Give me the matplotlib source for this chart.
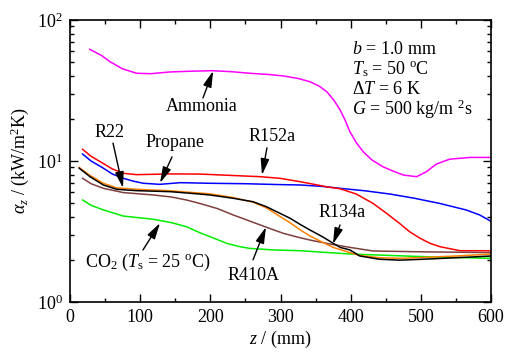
"""
Condensation heat transfer coefficient along the channel for several refrigerants.
"""

import matplotlib
matplotlib.use("Agg")
import matplotlib.pyplot as plt
import matplotlib.ticker as mticker

plt.rcParams["font.family"] = ["Liberation Serif", "DejaVu Serif"]
plt.rcParams["mathtext.fontset"] = "custom"
plt.rcParams["mathtext.rm"] = "Liberation Serif"
plt.rcParams["mathtext.it"] = "Liberation Serif:italic"
plt.rcParams["mathtext.bf"] = "Liberation Serif:bold"
plt.rcParams["font.size"] = 13

# ---------------------------------------------------------------------------
# Data
# ---------------------------------------------------------------------------
ammonia_z = [28, 45, 57, 75, 95, 115, 142, 170, 202, 230, 256, 285, 304, 325,
             342, 355, 366, 376, 385, 392, 399, 408, 418, 430, 446, 460, 475,
             494, 508, 522, 541, 570, 600]
ammonia_a = [62, 56, 50.6, 45, 41.9, 41.6, 42.8, 43.3, 43.7, 43, 41.9, 41, 40.1,
             38.5, 36.5, 34, 31, 27, 23, 19.5, 16.1, 13.5, 11.6, 10.2, 9.1, 8.5,
             7.95, 7.74, 8.4, 9.5, 10.3, 10.6, 10.6]

r152a_z = [18, 30, 47.5, 60, 76, 95, 119, 143, 185, 230, 271, 299, 328, 350,
           366, 385, 408, 432, 451, 470, 484, 499, 513, 527, 556, 601]
r152a_a = [12.1, 10.8, 9.6, 8.8, 8.18, 8.0, 8.05, 8.1, 8.08, 7.9, 7.74, 7.54,
           7.13, 6.8, 6.56, 6.35, 5.83, 5.0, 4.26, 3.6, 3.15, 2.83, 2.61, 2.47,
           2.31, 2.31]

propane_z = [18, 30, 47.5, 60, 76, 90, 104.5, 128, 157, 199.5, 250, 300, 328,
             360, 385, 420, 456, 491, 527, 565, 584, 601]
propane_a = [11.2, 10.0, 8.9, 8.1, 7.54, 7.2, 6.95, 6.83, 7.02, 6.95, 6.9, 6.8,
             6.76, 6.6, 6.4, 6.15, 5.83, 5.44, 5.0, 4.49, 4.14, 3.71]

r134a_z = [13, 28.5, 47.5, 66.5, 95, 143, 185, 199.5, 232.7, 261, 280, 299,
           313.5, 328, 342, 360, 375, 385, 399, 413, 441, 470, 503, 550, 601]
r134a_a = [8.9, 7.74, 6.76, 6.3, 6.16, 6.06, 5.83, 5.74, 5.44, 5.14, 4.74, 4.26,
           3.93, 3.55, 3.24, 2.9, 2.61, 2.44, 2.34, 2.12, 2.01, 1.98, 2.01, 2.06,
           2.12]

r22_z = [13, 28.5, 47.5, 66.5, 95, 143, 185, 199.5, 232.7, 261, 280, 299,
         313.5, 328, 342, 360, 375, 399, 413, 441, 470, 503, 550, 601]
r22_a = [9.0, 7.9, 6.95, 6.45, 6.3, 6.15, 5.92, 5.85, 5.5, 5.1, 4.65, 4.05,
         3.65, 3.25, 2.94, 2.65, 2.44, 2.24, 2.14, 2.06, 2.04, 2.07, 2.12, 2.19]

r410a_z = [18, 30, 47.5, 76, 119, 145, 166, 185, 210, 232.7, 250, 271, 290,
           304, 325, 342, 370, 399, 432, 500, 601]
r410a_a = [7.54, 6.9, 6.4, 5.97, 5.74, 5.55, 5.29, 5.0, 4.6, 4.14, 3.85, 3.52,
           3.25, 3.07, 2.88, 2.75, 2.58, 2.44, 2.30, 2.27, 2.24]

co2_z = [18, 30, 47.5, 76, 100, 119, 145, 166, 185, 200, 223, 240, 256, 290,
         328, 399, 500, 601]
co2_a = [5.29, 4.85, 4.5, 4.07, 3.95, 3.86, 3.65, 3.42, 3.1, 2.9, 2.61, 2.48,
         2.40, 2.34, 2.31, 2.19, 2.1, 2.04]

# ---------------------------------------------------------------------------
# Figure
# ---------------------------------------------------------------------------
W, H = 505, 353
fig = plt.figure(figsize=(W / 100, H / 100), dpi=100)
ax = fig.add_axes([70 / W, (H - 302) / H, 421 / W, 282 / H])

lw = 1.1
ax.plot(ammonia_z, ammonia_a, color="#ff00ff", lw=lw)
ax.plot(propane_z, propane_a, color="#0000ff", lw=lw)
ax.plot(r152a_z, r152a_a, color="#ff0000", lw=lw)
ax.plot(co2_z, co2_a, color="#00ee00", lw=lw)
ax.plot(r410a_z, r410a_a, color="#7f3f3f", lw=lw)
ax.plot(r22_z, r22_a, color="#ff8000", lw=lw)
ax.plot(r134a_z, r134a_a, color="black", lw=lw)

ax.set_yscale("log")
ax.set_xlim(0, 600)
ax.set_ylim(1, 100)
ax.xaxis.set_major_locator(mticker.MultipleLocator(100))
ax.xaxis.set_minor_locator(mticker.MultipleLocator(50))
ax.tick_params(which="both", direction="in", top=True, right=True,
               labelsize=13, width=1)
ax.tick_params(which="major", length=6, pad=5)
ax.tick_params(which="minor", length=3)
for s in ax.spines.values():
    s.set_linewidth(1.2)

ax.set_xlabel(r"$z$ / (mm)", fontsize=13, labelpad=2)
ax.set_ylabel(r"$\alpha_z$ / (kW/m$^2$K)", fontsize=13, labelpad=4)

# labels with arrows
arrow = dict(arrowstyle="-|>,head_length=0.75,head_width=0.2", color="black",
             lw=1.0, shrinkA=0, shrinkB=0)
notes = [
    ("Ammonia", (188, 24.2), (189.5, 28), (204, 43.5)),
    ("R22", (57, 15.8), (61.3, 13.4), (75.5, 6.43)),
    ("Propane", (150, 13.6), (145.4, 10.7), (128.3, 6.98)),
    ("R152a", (288, 14.8), (280.7, 12.4), (273.6, 7.96)),
    ("R134a", (388, 4.28), (384.8, 3.52), (374.8, 2.58)),
    ("R410A", (261, 1.53), (260.8, 1.99), (279.3, 3.40)),
    (r"CO$_2$ ($T_\mathrm{s}$ = 25 $^\mathrm{o}$C)", (111, 1.92), (104, 2.34),
     (128.3, 3.63)),
]
for label, txt, tail, tip in notes:
    ax.text(txt[0], txt[1], label, ha="center", va="center", fontsize=13)
    ax.annotate("", xy=tip, xytext=tail, arrowprops=arrow)

params = [
    r"$b$ = 1.0 mm",
    r"$T_\mathrm{s}$ = 50 $^\mathrm{o}$C",
    r"$\Delta T$ = 6 K",
    r"$G$ = 500 kg/m $^2$s",
]
for i, line in enumerate(params):
    ax.text(0.67, 0.897 - i * 0.071, line, transform=ax.transAxes,
            ha="left", va="center", fontsize=13)

fig.savefig("out.png", dpi=100)
